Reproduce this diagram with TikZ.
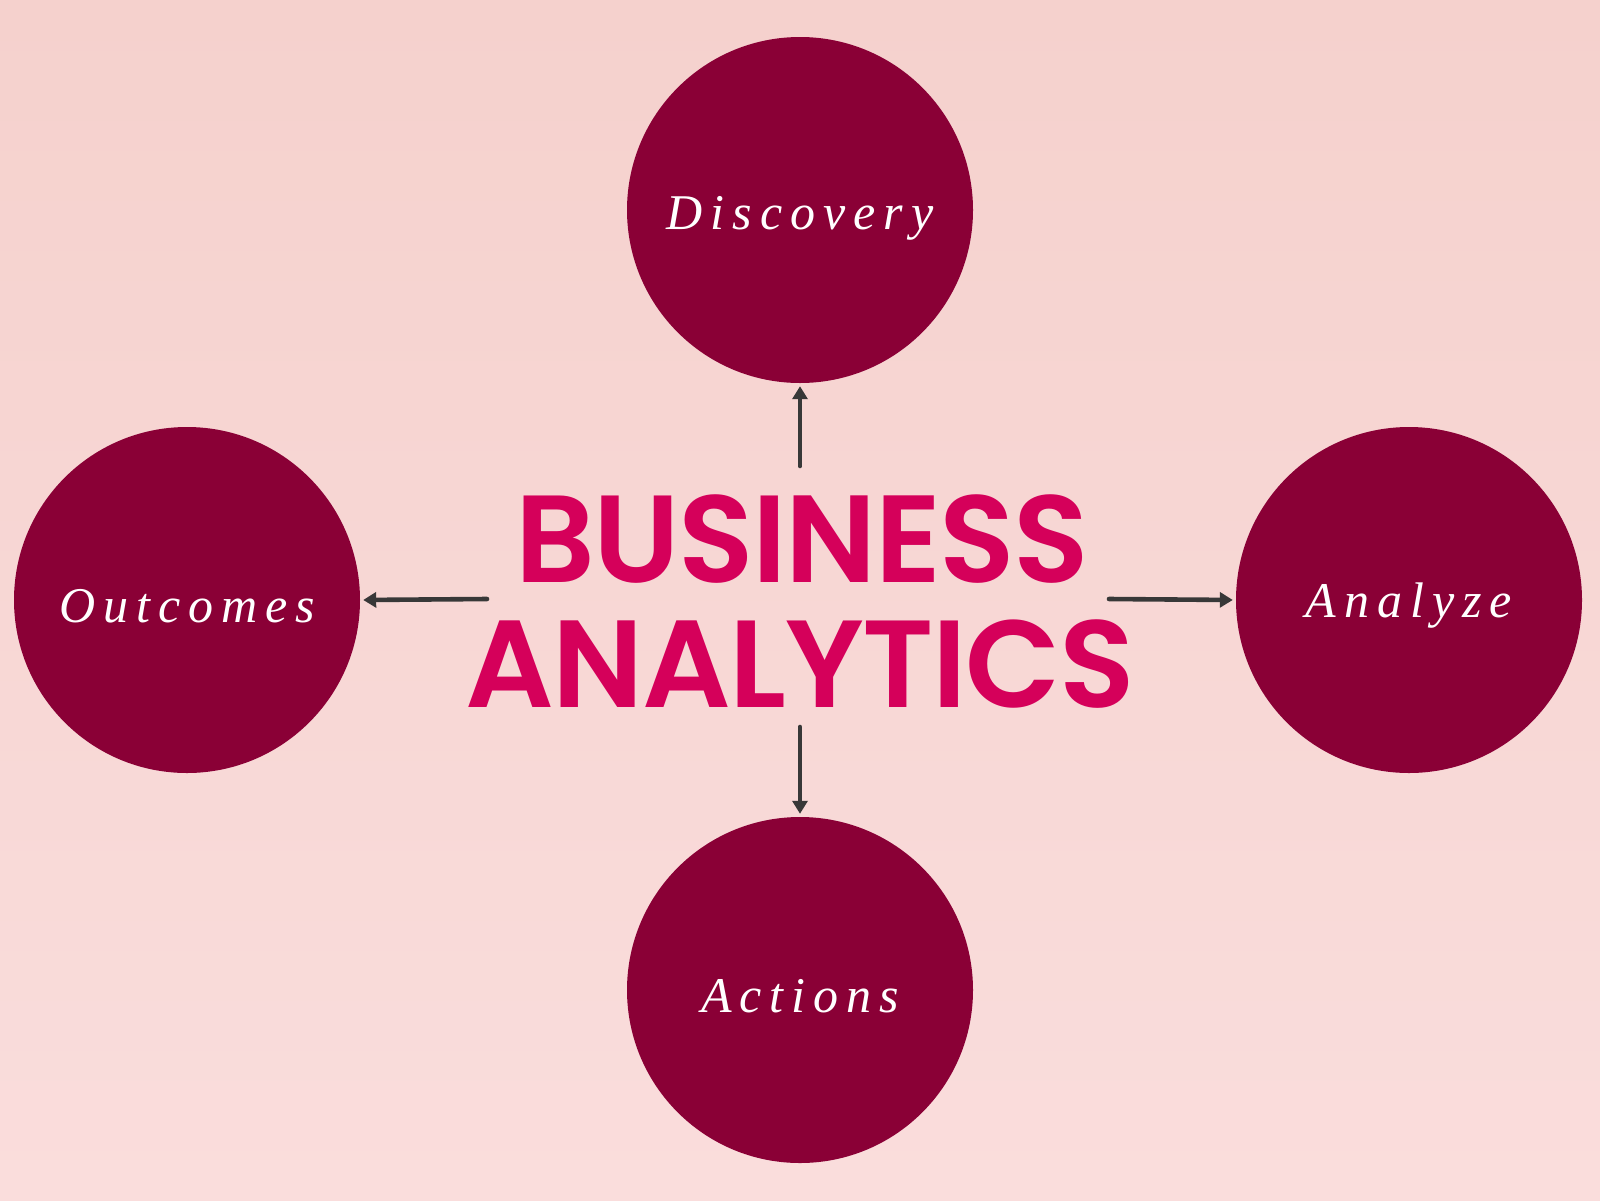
\documentclass[tikz,border=0pt]{standalone}
\usepackage{fontspec}
\usetikzlibrary{arrows.meta}
\newfontfamily\titlefont{Poppins}[UprightFont=* SemiBold,LetterSpace=-1.2]
\newfontfamily\labelfont{Liberation Serif}[LetterSpace=16]
\definecolor{bgA}{HTML}{F5D1CD}
\definecolor{bgB}{HTML}{FADDDC}
\definecolor{circ}{HTML}{8A0036}
\definecolor{titlec}{HTML}{D5005A}
\definecolor{arrowc}{HTML}{383838}
\tikzset{
  stage/.style={circle,fill=circ,minimum size=346pt,inner sep=0pt,text=white,font=\labelfont\itshape\fontsize{50}{50}\selectfont},
  titletext/.style={text=titlec,font=\titlefont\fontsize{124}{124}\selectfont,inner sep=0pt,anchor=base},
  link/.style={draw=arrowc,line width=4.6pt,line cap=round,line join=round,shorten >=3pt,-{Triangle[length=13pt,width=15pt]}}
}
\begin{document}
\begin{tikzpicture}[x=1pt,y=-1pt]
\shade[top color=bgA,bottom color=bgB] (0,0) rectangle (1600,1200);
\useasboundingbox (0,0) rectangle (1600,1200);
\node[stage] (disc) at (800,210) {};
\node[stage] (outc) at (187,600) {};
\node[stage] (anal) at (1409,600) {};
\node[stage] (acti) at (800,990) {};
\node[stage,fill=none] at (800,218) {Discovery};
\node[stage,fill=none] at (187,606) {Outcomes};
\node[stage,fill=none] at (1409,606) {Analyze};
\node[stage,fill=none] at (800,996) {Actions};
\node[titletext] (t1) at (802,582) {BUSINESS};
\node[titletext] (t2) at (800,707) {ANALYTICS};
\coordinate (up) at (800,466);
\coordinate (down) at (800,727);
\coordinate (left) at (487,599);
\coordinate (right) at (1109,599);
\draw[link] (up) -- (disc.south);
\draw[link] (down) -- (acti.north);
\draw[link] (left) -- (outc.east);
\draw[link] (right) -- (anal.west);
\end{tikzpicture}
\end{document}
